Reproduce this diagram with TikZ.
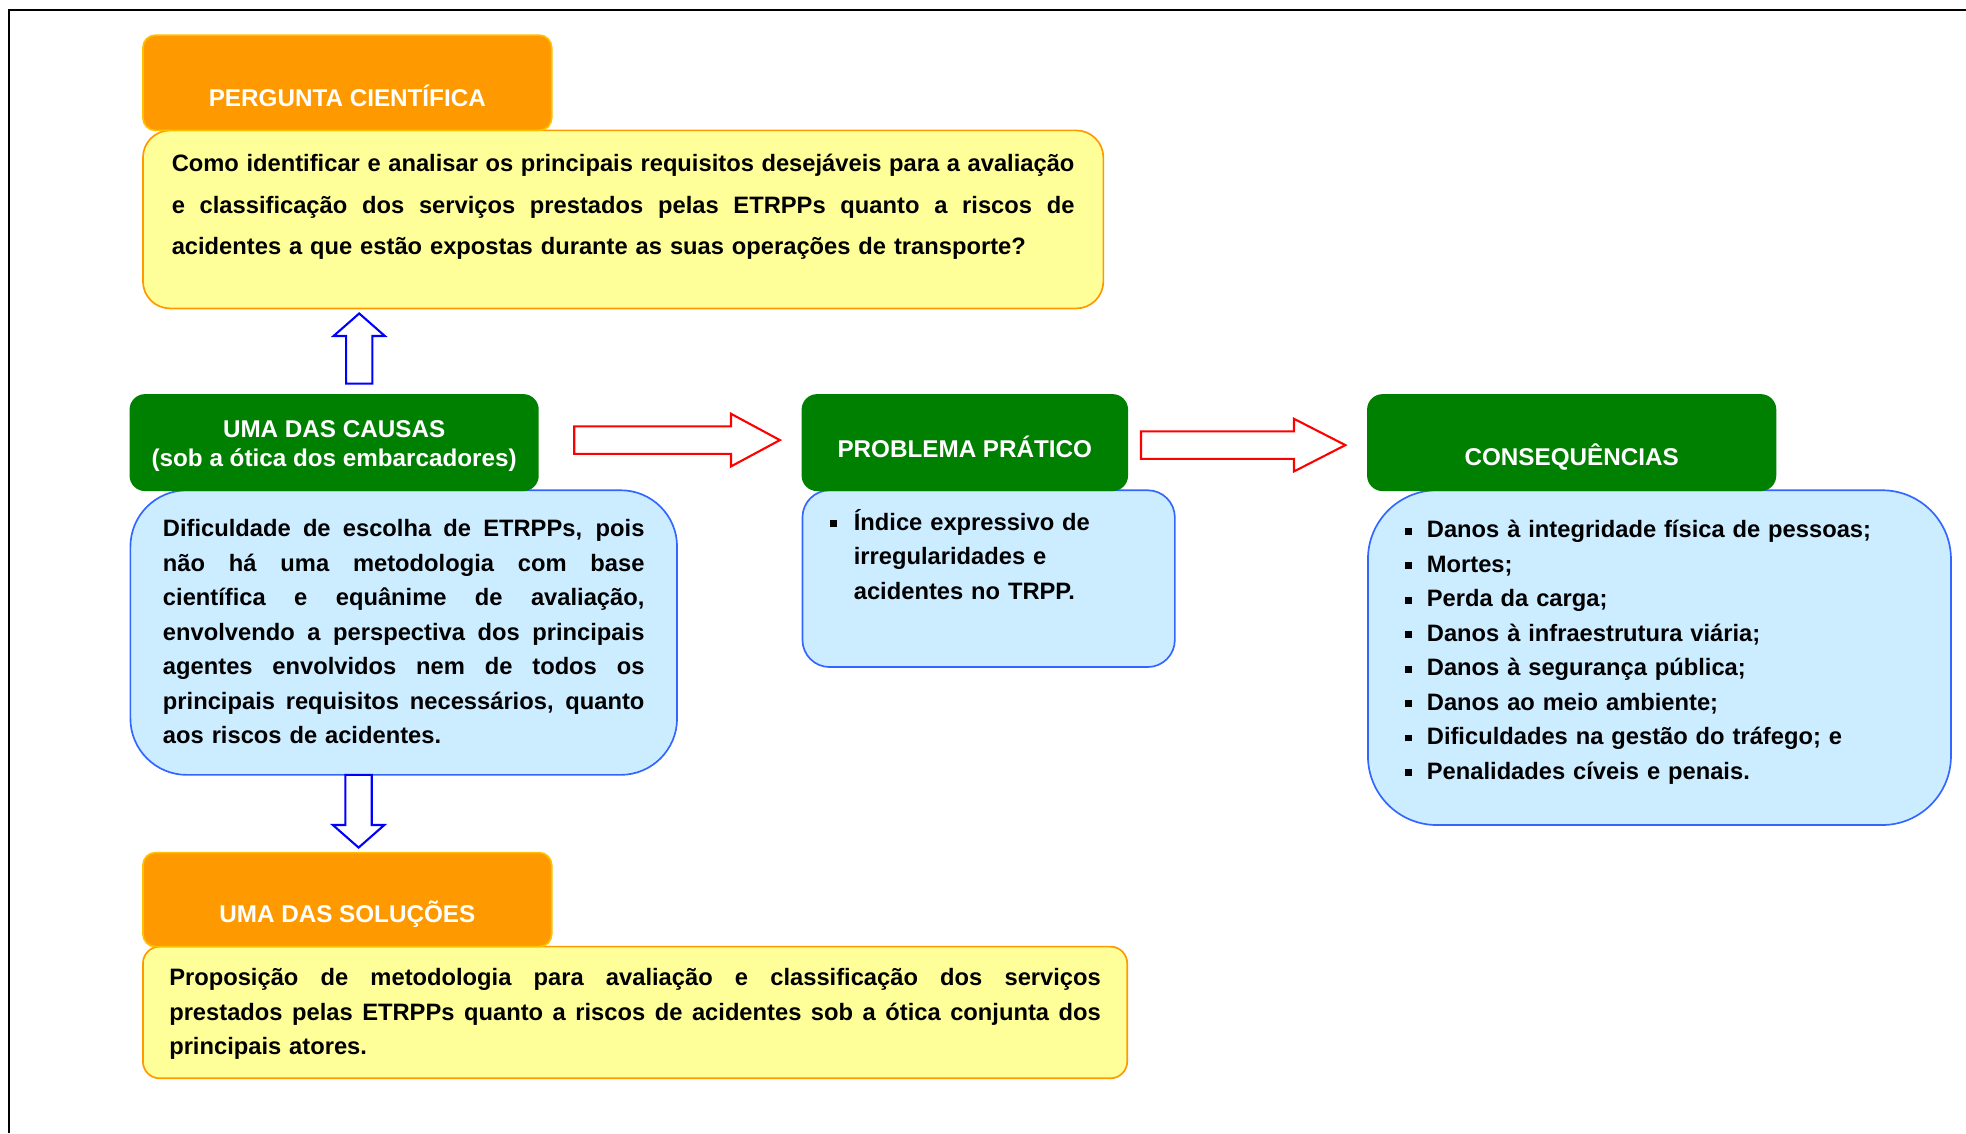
\documentclass[tikz,border=0pt]{standalone}
\usepackage{fontspec}
\setmainfont{Liberation Sans}
\definecolor{cOrange}{HTML}{FF9900}
\definecolor{cOrangeLine}{HTML}{FFC000}
\definecolor{cYellow}{HTML}{FFFF99}
\definecolor{cGreen}{HTML}{008000}
\definecolor{cBlue}{HTML}{CCECFF}
\definecolor{cBlueLine}{HTML}{3366FF}
% text helpers: strut, justified line of a given width, fonts, square bullet
\newcommand\tstrut{\rule{0pt}{11pt}}
\newcommand\jl[2]{\leavevmode\hbox to #1{\spaceskip=.28em plus 3em minus .08em\relax\tstrut#2}}
\newcommand\fsA{\fontsize{11.35}{19.8}\selectfont\bfseries}
\newcommand\fsB{\fontsize{11.35}{16.5}\selectfont\bfseries}
\newcommand\sqbul[1]{\llap{\raisebox{1.6pt}{\rule{3.3pt}{3.3pt}}\hspace{#1}}}
% block arrows: vertical (x centre, tail y, head base y, tip y) and horizontal (y centre, tail x, head base x, tip x)
\newcommand\blockv[5]{\draw[#1] ({#2-10.5},#3) -- ({#2-10.5},#4) -- ({#2-20.5},#4) -- (#2,#5) -- ({#2+20.5},#4) -- ({#2+10.5},#4) -- ({#2+10.5},#3) -- cycle;}
\newcommand\blockh[5]{\draw[#1] (#3,{#2-11}) -- (#4,{#2-11}) -- (#4,{#2-21}) -- (#5,#2) -- (#4,{#2+21}) -- (#4,{#2+11}) -- (#3,{#2+11}) -- cycle;}
\tikzset{
  every node/.style={inner sep=0pt, outer sep=0pt},
  sz/.style 2 args={minimum width=#1*0.6pt, minimum height=#2*0.6pt},
  hdrO/.style={rectangle, rounded corners=6pt, fill=cOrange, draw=cOrangeLine, line width=0.8pt},
  hdrG/.style={rectangle, rounded corners=7pt, fill=cGreen, draw=cGreen, line width=0.8pt},
  boxY/.style={rectangle, fill=cYellow, draw=cOrange, line width=0.8pt},
  boxB/.style={rectangle, fill=cBlue, draw=cBlueLine, line width=0.8pt},
  hdrtxt/.style={text=white, font=\fontsize{11.6}{13.8}\selectfont\bfseries},
  arrB/.style={draw=blue, fill=white, line width=1pt},
  arrR/.style={draw=red, fill=white, line width=1pt},
}
\begin{document}
\begin{tikzpicture}[x=0.6pt,y=-0.6pt]
\useasboundingbox (0,0) rectangle (1568,904);
\fill[white] (0,0) rectangle (1568,904);
% frame
\draw[line width=1.2pt] (1568,8) -- (7,8) -- (7,904);

% scientific question
\node[boxY, rounded corners=13pt, sz={766}{142}] (qBox) at (497,175) {};
\node[hdrO, sz={326}{76}] (qHead) at (277,66) {};
\node[hdrtxt, anchor=base] (qTitle) at (277,85) {PERGUNTA CIENTÍFICA};
\node[anchor=north west, text width=432pt, align=left, font=\fsA] (qTxt) at (137,118.7)
  {\jl{432pt}{Como identificar e analisar os principais requisitos desejáveis para a avaliação}\\
   \jl{432pt}{e classificação dos serviços prestados pelas ETRPPs quanto a riscos de}\\
   \tstrut acidentes a que estão expostas durante as suas operações de transporte?};

% cause
\node[boxB, rounded corners=27pt, sz={436}{227}] (cBox) at (322,504.5) {};
\node[hdrG, sz={325}{76}] (cHead) at (266.5,353) {};
\node[hdrtxt, anchor=north, align=center] (cTitle) at (266.5,330.7)
  {\tstrut UMA DAS CAUSAS\\(sob a ótica dos embarcadores)};
\node[anchor=north west, text width=230.4pt, align=left, font=\fsB] (cTxt) at (130,409.7)
  {\jl{230.4pt}{Dificuldade de escolha de ETRPPs, pois}\\
   \jl{230.4pt}{não há uma metodologia com base}\\
   \jl{230.4pt}{científica e equânime de avaliação,}\\
   \jl{230.4pt}{envolvendo a perspectiva dos principais}\\
   \jl{230.4pt}{agentes envolvidos nem de todos os}\\
   \jl{230.4pt}{principais requisitos necessários, quanto}\\
   \tstrut aos riscos de acidentes.};

% solution
\node[boxY, rounded corners=8pt, sz={785}{105}] (sBox) at (506.5,807.5) {};
\node[hdrO, sz={326}{75}] (sHead) at (277,717.5) {};
\node[hdrtxt, anchor=base] (sTitle) at (277,736) {UMA DAS SOLUÇÕES};
\node[anchor=north west, text width=445.8pt, align=left, font=\fsB] (sTxt) at (135,767.7)
  {\jl{445.8pt}{Proposição de metodologia para avaliação e classificação dos serviços}\\
   \jl{445.8pt}{prestados pelas ETRPPs quanto a riscos de acidentes sob a ótica conjunta dos}\\
   \tstrut principais atores.};

% practical problem
\node[boxB, rounded corners=13pt, sz={297}{141}] (pBox) at (788.5,461.5) {};
\node[hdrG, sz={259}{76}] (pHead) at (769.5,353) {};
\node[hdrtxt, anchor=base] (pTitle) at (769.5,365) {PROBLEMA PRÁTICO};
\node[anchor=north west, text width=200pt, align=left, font=\fsB] (pTxt) at (681,404.7)
  {\tstrut\sqbul{8pt}Índice expressivo de\\
   \tstrut irregularidades e\\
   \tstrut acidentes no TRPP.};

% consequences
\node[boxB, rounded corners=33pt, sz={465}{267}] (kBox) at (1323.5,524.5) {};
\node[hdrG, sz={325}{76}] (kHead) at (1253.5,353) {};
\node[hdrtxt, anchor=base] (kTitle) at (1253.5,371) {CONSEQUÊNCIAS};
\node[anchor=north west, text width=250pt, align=left, font=\fsB] (kTxt) at (1138,410.7)
  {\tstrut\sqbul{7.3pt}Danos à integridade física de pessoas;\\
   \tstrut\sqbul{7.3pt}Mortes;\\
   \tstrut\sqbul{7.3pt}Perda da carga;\\
   \tstrut\sqbul{7.3pt}Danos à infraestrutura viária;\\
   \tstrut\sqbul{7.3pt}Danos à segurança pública;\\
   \tstrut\sqbul{7.3pt}Danos ao meio ambiente;\\
   \tstrut\sqbul{7.3pt}Dificuldades na gestão do tráfego; e\\
   \tstrut\sqbul{7.3pt}Penalidades cíveis e penais.};

% block arrows
\blockv{arrB}{286.5}{306}{268}{250}
\blockv{arrB}{286}{618}{658}{676}
\blockh{arrR}{351}{458}{583}{622}
\blockh{arrR}{355}{910}{1032}{1073}
\end{tikzpicture}
\end{document}
